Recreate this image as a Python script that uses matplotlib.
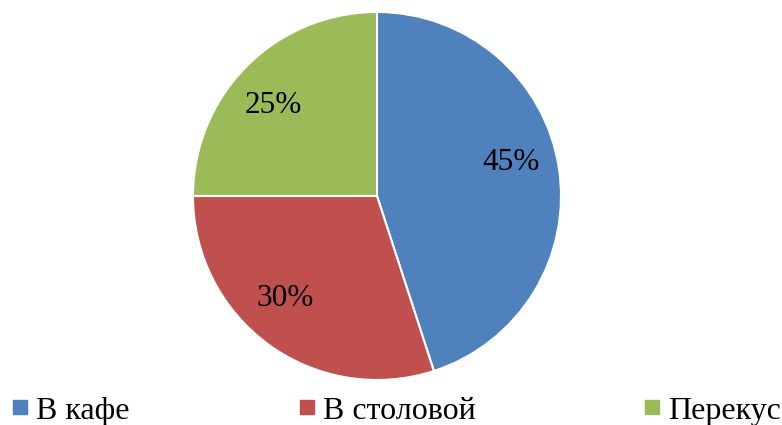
import numpy as np
import matplotlib.pyplot as plt
from matplotlib.lines import Line2D

labels = ['В кафе', 'В столовой', 'Перекус']
values = [45, 30, 25]
colors = ['#4F81BD', '#C0504D', '#9BBB59']
legend_x = [0.005, 0.372, 0.813]
# small nudges (degrees) so the % labels sit like in the original
label_shift = [5, -6, 4]

plt.rcParams['font.family'] = ['Liberation Serif', 'DejaVu Serif']

fig = plt.figure(figsize=(7.82, 4.25), dpi=100)
ax = fig.add_axes([0.2468, 0.1059, 0.4706, 0.8659])

wedges, texts, autotexts = ax.pie(values, colors=colors, startangle=90, counterclock=False,
                                  autopct='%d%%', pctdistance=0.75,
                                  wedgeprops=dict(edgecolor='white', linewidth=1.5),
                                  textprops=dict(fontsize=22.5, color='black'))
for w, t, d in zip(wedges, autotexts, label_shift):
    mid = np.deg2rad((w.theta1 + w.theta2) / 2 + d)
    t.set_position((0.75 * np.cos(mid), 0.75 * np.sin(mid)))

ax.set_xlim(-1, 1)
ax.set_ylim(-1, 1)
ax.set_aspect('equal')

# legend entries spread out along the bottom, one legend per entry
for lab, c, x in zip(labels, colors, legend_x):
    h = Line2D([], [], marker='s', linestyle='', markersize=9.5,
               markerfacecolor=c, markeredgecolor=c)
    fig.legend([h], [lab], loc='center left', bbox_to_anchor=(x, 0.033),
               frameon=False, fontsize=23, handletextpad=0.0, handlelength=1.0,
               borderpad=0, borderaxespad=0)

fig.savefig('out.png', dpi=100)
